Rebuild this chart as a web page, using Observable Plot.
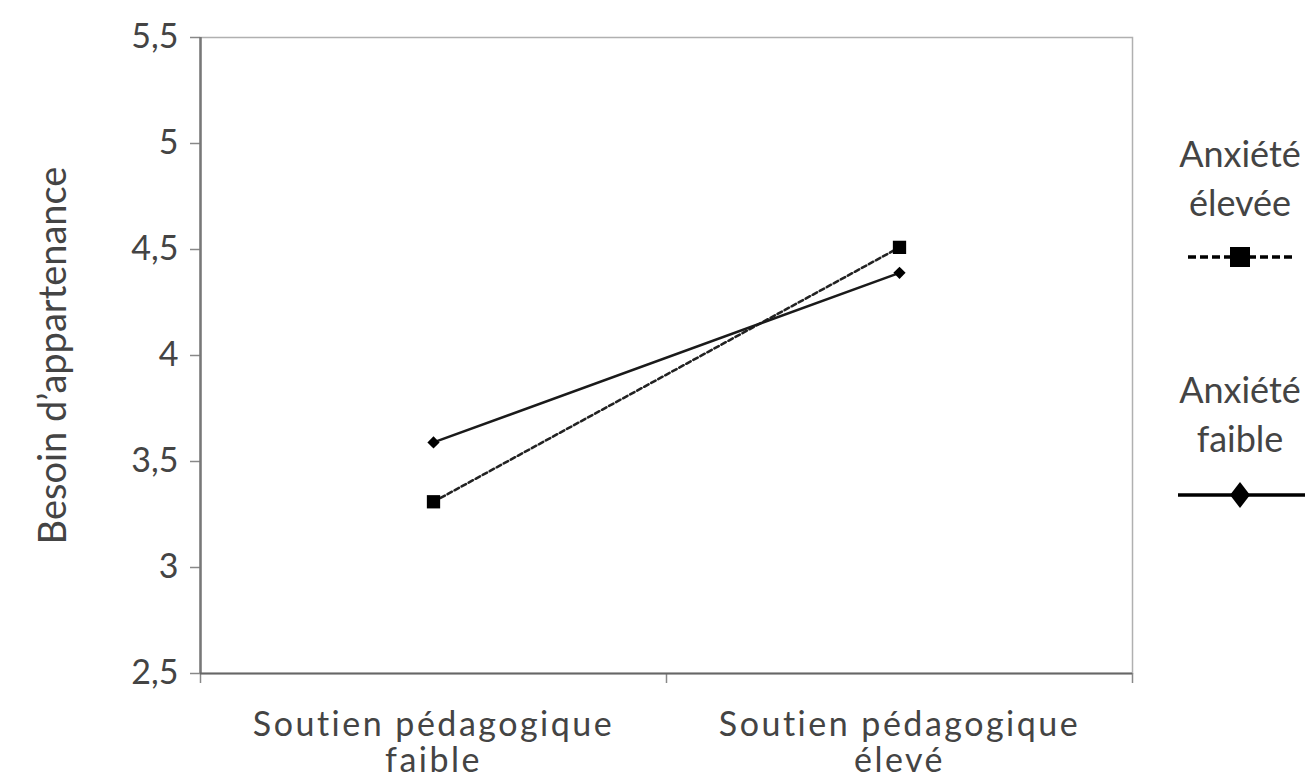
<!DOCTYPE html>
<html>
<head>
<meta charset="utf-8">
<script src="https://cdn.jsdelivr.net/npm/d3@7"></script>
<script src="https://cdn.jsdelivr.net/npm/@observablehq/plot@0.6"></script>
<style>
  html, body { margin: 0; padding: 0; background: #fff; }
  #wrap { position: relative; width: 1307px; height: 779px; font-family: "Lato", "Noto Sans", sans-serif; color: #444; overflow: hidden; }
  #legend { position: absolute; left: 1160px; top: 0; }
</style>
</head>
<body>
<div id="wrap"></div>
<script>
const categories = ["Soutien pédagogique\nfaible", "Soutien pédagogique\nélevé"];
const seriesNames = ["Anxiété élevée", "Anxiété faible"];
const anxieteElevee = [3.31, 4.51];
const anxieteFaible = [3.59, 4.39];
const yTicks = [2.5, 3, 3.5, 4, 4.5, 5, 5.5];
const yLabel = "Besoin d’appartenance";
const legendLines = [["Anxiété", "élevée"], ["Anxiété", "faible"]];

const rows = [];
categories.forEach((c, i) => {
  rows.push({series: seriesNames[0], pos: i + 0.5, value: anxieteElevee[i]});
  rows.push({series: seriesNames[1], pos: i + 0.5, value: anxieteFaible[i]});
});
const high = rows.filter(d => d.series === seriesNames[0]);
const low = rows.filter(d => d.series === seriesNames[1]);
const fmt = v => String(v).replace(".", ",");

const chart = Plot.plot({
  width: 1307,
  height: 779,
  marginLeft: 200,
  marginRight: 175,
  marginTop: 37,
  marginBottom: 106,
  style: {fontFamily: "Lato, 'Noto Sans', sans-serif", fontSize: "34px", color: "#444", background: "#fff", overflow: "visible"},
  x: {domain: [0, categories.length]},
  y: {domain: [2.5, 5.5]},
  marks: [
    Plot.frame({stroke: "#b0b0b0", strokeWidth: 1.5}),
    Plot.axisY({ticks: yTicks, tickFormat: fmt, tickSize: 10, tickPadding: 12, stroke: "#888", strokeWidth: 1.5, fontSize: 34, label: null}),
    Plot.axisY({ticks: [], label: yLabel, labelAnchor: "center", labelArrow: "none", labelOffset: 161, fontSize: 38}),
    Plot.axisX({ticks: d3.range(categories.length + 1), tickFormat: () => "", tickSize: 10, stroke: "#888", strokeWidth: 1.5, label: null}),
    Plot.axisX({ticks: categories.map((c, i) => i + 0.5), tickFormat: v => categories[Math.floor(v)], tickSize: 0, tickPadding: 37,
      lineHeight: 1.06, fontSize: 34, label: null, className: "catlab"}),
    Plot.ruleX([0], {stroke: "#777", strokeWidth: 2.5}),
    Plot.ruleY([2.5], {stroke: "#666", strokeWidth: 2}),
    Plot.line(high, {x: "pos", y: "value", stroke: "#222", strokeWidth: 2.5, strokeDasharray: "5,3"}),
    Plot.line(low, {x: "pos", y: "value", stroke: "#1a1a1a", strokeWidth: 2.5}),
    Plot.dot(high, {x: "pos", y: "value", symbol: "square", r: 7.5, fill: "#000", stroke: "none"}),
    Plot.dot(low, {x: "pos", y: "value", symbol: "diamond2", r: 5.5, fill: "#000", stroke: "none"})
  ]
});
const wrap = document.getElementById("wrap");
wrap.appendChild(chart);
d3.select(chart).selectAll(".catlab text").style("letter-spacing", "2.5px");

// Legend (drawn as SVG text + symbols)
const lg = d3.create("svg").attr("id", "legend").attr("width", 147).attr("height", 779)
  .style("font-family", "Lato, 'Noto Sans', sans-serif").style("font-size", "36px");
const groups = [
  {lines: legendLines[0], base: 167, sym: 257, dash: "8,4", shape: "square"},
  {lines: legendLines[1], base: 403, sym: 495, dash: null, shape: "diamond"}
];
groups.forEach(g => {
  g.lines.forEach((t, j) => {
    lg.append("text").attr("x", 80).attr("y", g.base + j * 48.5).attr("text-anchor", "middle").attr("fill", "#444").text(t);
  });
  lg.append("line").attr("x1", g.dash ? 28 : 18).attr("x2", g.dash ? 136 : 145).attr("y1", g.sym).attr("y2", g.sym)
    .attr("stroke", "#000").attr("stroke-width", 3.5).attr("stroke-dasharray", g.dash);
  if (g.shape === "square") lg.append("rect").attr("x", 70).attr("y", g.sym - 10).attr("width", 20).attr("height", 20).attr("fill", "#000");
  else lg.append("path").attr("d", `M80,${g.sym - 13} L90,${g.sym} L80,${g.sym + 13} L70,${g.sym} Z`).attr("fill", "#000");
});
wrap.appendChild(lg.node());
</script>
</body>
</html>
